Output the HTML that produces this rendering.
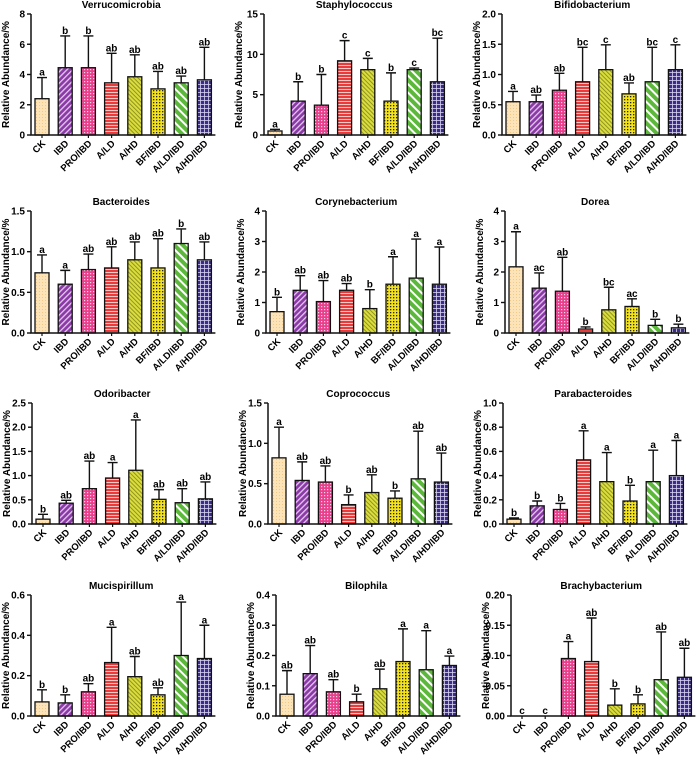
<!DOCTYPE html>
<html><head><meta charset="utf-8">
<style>
html,body{margin:0;padding:0;background:#fff;}
svg{display:block;font-family:"Liberation Sans",Arial,sans-serif;}
</style></head>
<body>
<svg id="chart" width="700" height="760" viewBox="0 0 700 760" xmlns="http://www.w3.org/2000/svg">
<defs>
  <pattern id="pCK" width="3" height="3" patternUnits="userSpaceOnUse"><rect width="3" height="3" fill="#fde4b8"/><rect width="1" height="1" fill="#f3c98a"/></pattern>
  <pattern id="pIBD" width="4" height="4" patternUnits="userSpaceOnUse" patternTransform="rotate(45)"><rect width="4" height="4" fill="#8a3aa6"/><rect width="1.3" height="4" fill="#e6c8ef"/></pattern>
  <pattern id="pPRO" width="3" height="3" patternUnits="userSpaceOnUse"><rect width="3" height="3" fill="#e8408c"/><rect width="1.2" height="1.2" fill="#fbd0e4"/></pattern>
  <pattern id="pALD" width="4" height="3" patternUnits="userSpaceOnUse"><rect width="4" height="3" fill="#e83c3c"/><rect y="2" width="4" height="0.9" fill="#fbd5d5"/></pattern>
  <pattern id="pAHD" width="3" height="3" patternUnits="userSpaceOnUse" patternTransform="rotate(-45)"><rect width="3" height="3" fill="#dade3c"/><rect width="0.9" height="3" fill="#8a8a20"/></pattern>
  <pattern id="pBF" width="3" height="3" patternUnits="userSpaceOnUse"><rect width="3" height="3" fill="#f2e21e"/><rect width="1.3" height="1.3" fill="#222"/></pattern>
  <pattern id="pALDIBD" width="6" height="6" patternUnits="userSpaceOnUse" patternTransform="rotate(-45)"><rect width="6" height="6" fill="#5cb83a"/><rect width="2" height="6" fill="#ffffff"/></pattern>
  <pattern id="pAHDIBD" width="4" height="4" patternUnits="userSpaceOnUse"><rect width="4" height="4" fill="#3b2c8c"/><rect width="4" height="0.8" fill="#d8d4f0"/><rect width="0.8" height="4" fill="#d8d4f0"/></pattern>
</defs>
</svg>
<script>
const categories = ["CK","IBD","PRO/IBD","A/LD","A/HD","BF/IBD","A/LD/IBD","A/HD/IBD"];
const titles = ["Verrucomicrobia","Staphylococcus","Bifidobacterium","Bacteroides","Corynebacterium","Dorea","Odoribacter","Coprococcus","Parabacteroides","Mucispirillum","Bilophila","Brachybacterium"];
const yMaxes = [8,15,2,1.5,4,4,2.5,1.5,1,0.6,0.4,0.2];
const tickSteps = [2,5,0.5,0.5,1,1,0.5,0.5,0.2,0.2,0.1,0.05];
const tickDecimals = [0,0,1,1,0,0,1,1,1,1,1,2];
const means = [
 [2.4,4.45,4.45,3.45,3.85,3.05,3.45,3.65],
 [0.5,4.2,3.7,9.2,8.1,4.2,8.1,6.6],
 [0.55,0.55,0.74,0.88,1.08,0.68,0.88,1.08],
 [0.74,0.6,0.78,0.8,0.9,0.8,1.1,0.9],
 [0.7,1.4,1.03,1.4,0.8,1.6,1.8,1.6],
 [2.17,1.47,1.37,0.13,0.76,0.87,0.25,0.17],
 [0.1,0.43,0.73,0.95,1.11,0.51,0.44,0.52],
 [0.82,0.54,0.52,0.24,0.39,0.32,0.56,0.52],
 [0.04,0.15,0.12,0.53,0.35,0.19,0.35,0.4],
 [0.07,0.065,0.12,0.265,0.195,0.105,0.3,0.285],
 [0.072,0.14,0.08,0.047,0.09,0.18,0.153,0.167],
 [0,0,0.095,0.09,0.018,0.02,0.06,0.064]
];
const errorTops = [
 [3.8,6.55,6.55,5.4,5.3,4.2,3.9,5.8],
 [0.7,6.6,7.5,11.7,9.5,7.7,8.3,12.0],
 [0.72,0.66,1.02,1.45,1.49,0.86,1.45,1.49],
 [0.96,0.77,0.97,1.06,1.12,1.16,1.28,1.12],
 [1.17,1.88,1.72,1.62,1.42,2.5,3.08,2.82],
 [3.32,1.97,2.48,0.2,1.5,1.12,0.45,0.29],
 [0.2,0.49,1.3,1.27,2.15,0.71,0.73,0.87],
 [1.2,0.77,0.72,0.36,0.61,0.41,1.15,0.88],
 [0.05,0.19,0.17,0.77,0.59,0.32,0.61,0.69],
 [0.13,0.105,0.16,0.44,0.295,0.14,0.565,0.45],
 [0.15,0.233,0.12,0.072,0.155,0.288,0.282,0.198],
 [0,0,0.123,0.162,0.045,0.035,0.139,0.112]
];
const letters = [
 ["a","b","b","ab","ab","ab","ab","ab"],
 ["a","b","b","c","c","b","c","bc"],
 ["a","ab","ab","bc","c","ab","bc","c"],
 ["a","a","ab","ab","ab","ab","b","ab"],
 ["b","ab","ab","ab","b","a","a","a"],
 ["a","ac","ab","b","bc","ac","b","b"],
 ["b","ab","ab","a","a","ab","ab","ab"],
 ["a","ab","ab","b","ab","b","ab","ab"],
 ["b","b","b","a","a","b","a","a"],
 ["b","b","ab","a","ab","ab","a","a"],
 ["ab","ab","ab","b","ab","a","a","a"],
 ["c","c","a","ab","b","b","ab","ab"]
];

const fills = ["url(#pCK)","url(#pIBD)","url(#pPRO)","url(#pALD)","url(#pAHD)","url(#pBF)","url(#pALDIBD)","url(#pAHDIBD)"];
const NS = "http://www.w3.org/2000/svg";
const svg = document.getElementById("chart");
// layout
const axisXs = [31,264,502, 31,266,505, 32,268,503, 31,276,511];
const rowTop = [14,211,403,595];
const rowZero = [135,333,524,716];
const barW = 14, spacing = 23.2;

function mk(tag, attrs, parent){
  const e = document.createElementNS(NS, tag);
  for (const k in attrs) e.setAttribute(k, attrs[k]);
  (parent||svg).appendChild(e);
  return e;
}
function slug(s){return s.toLowerCase().replace(/[^a-z0-9]+/g,'-').replace(/-$/,'');}

for (let p = 0; p < 12; p++) {
  const r = Math.floor(p/3);
  const ax = axisXs[p], top = rowTop[r], zero = rowZero[r];
  const yMax = yMaxes[p];
  const y = v => zero - (v / yMax) * (zero - top);
  const bx = i => ax + 4 + i * spacing;
  const g = mk("g", {});
  
  

  const t = mk("text", {x: (ax + bx(7) + barW) / 2, y: top - 6, "text-anchor": "middle", "font-size": "10", "font-weight": "bold"}, g);
  t.textContent = titles[p];
  
  

  const yl = mk("text", {x: 0, y: 0, "text-anchor": "middle", "font-size": "10", "font-weight": "bold", transform: `translate(${ax-22},${(top+zero)/2}) rotate(-90)`}, g);
  yl.textContent = "Relative Abundance/%";
  
  

  // bars
  for (let i = 0; i < 8; i++) {
    const x = bx(i);
    const m = means[p][i], e = errorTops[p][i];
    if (m > 0) {
      const b = mk("rect", {x: x, y: y(m), width: barW, height: zero - y(m), fill: fills[i], stroke: "#111", "stroke-width": "1.3"}, g);
      
      
    }
    if (e > m) {
      const cx = x + barW/2;
      const el = mk("path", {d: `M${cx},${y(m)}V${y(e)}M${cx-5},${y(e)}H${cx+5}`, stroke: "#111", "stroke-width": "1.4", fill: "none"}, g);
      
      
    }
    const lt = mk("text", {x: x + barW/2, y: y(Math.max(e, m)) - 2, "text-anchor": "middle", "font-size": "10", "font-weight": "bold"}, g);
    lt.textContent = letters[p][i];
    
    

    const cl = mk("text", {x: 0, y: 0, "text-anchor": "end", "font-size": "9.5", "font-weight": "bold", transform: `translate(${x + barW/2 + 4},${zero + 9}) rotate(-45)`}, g);
    cl.textContent = categories[i];
    
    
  }

  // axes
  const axes = mk("path", {d: `M${ax},${top}V${zero}H${bx(7) + barW + 4}`, stroke: "#111", "stroke-width": "1.5", fill: "none"}, g);
  
  
  const n = Math.round(yMax / tickSteps[p]);
  for (let k = 0; k <= n; k++) {
    const v = k * tickSteps[p];
    const ty = y(v);
    mk("line", {x1: ax - 4, x2: ax, y1: ty, y2: ty, stroke: "#111", "stroke-width": "1.4"}, g);
    const tl = mk("text", {x: ax - 6, y: ty + 3.5, "text-anchor": "end", "font-size": "10", "font-weight": "bold"}, g);
    tl.textContent = v.toFixed(tickDecimals[p]);
    
    
  }
  for (let i = 0; i < 8; i++) {
    const cx = bx(i) + barW/2;
    mk("line", {x1: cx, x2: cx, y1: zero, y2: zero + 3, stroke: "#111", "stroke-width": "1.2"}, g);
  }
}
</script>
</body></html>
